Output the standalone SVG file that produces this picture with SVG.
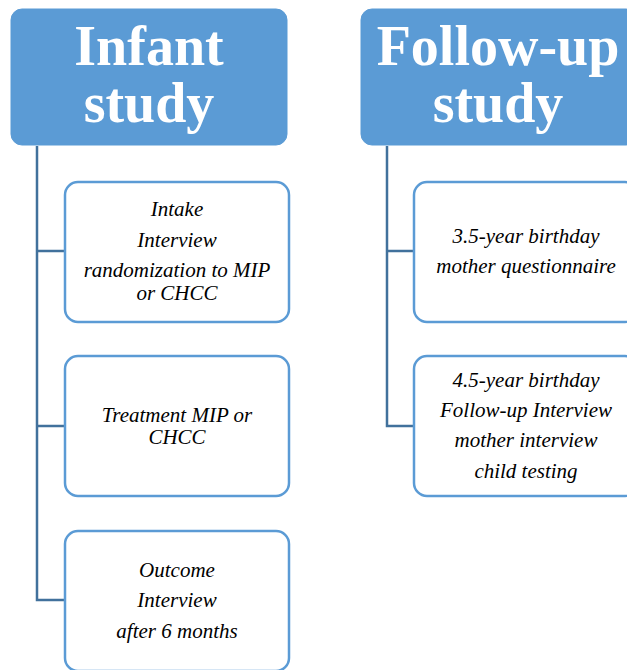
<svg xmlns="http://www.w3.org/2000/svg" width="627" height="670" viewBox="0 0 627 670">
<style>
.hdr{fill:#5B9BD5;stroke:#5B9BD5;stroke-width:1}
.hdrt{font-family:"Liberation Serif",serif;font-weight:bold;font-size:56px;fill:#fff;text-anchor:middle}
.box{fill:#fff;stroke:#5B9BD5;stroke-width:2.5}
.bt{font-family:"Liberation Serif",serif;font-style:italic;font-size:21px;fill:#000;text-anchor:middle}
.con{fill:none;stroke:#41719C;stroke-width:2.5}
</style>
<rect width="627" height="670" fill="#fff"/>
<g id="connectors">
<path class="con" d="M37 146 V600 H65 M37 251 H65 M37 426 H65"/>
<path class="con" d="M387 146 V426 H414 M387 251 H414"/>
</g>
<g id="infant">
<rect class="hdr" x="11" y="9" width="276" height="136" rx="11"/>
<text class="hdrt" x="149" y="65">Infant</text>
<text class="hdrt" x="149" y="122">study</text>
</g>
<g id="followup">
<rect class="hdr" x="361" y="9" width="276" height="136" rx="11"/>
<text class="hdrt" x="498" y="65">Follow-up</text>
<text class="hdrt" x="498" y="122">study</text>
</g>
<g id="intake">
<rect class="box" x="65" y="182" width="224" height="140" rx="13"/>
<text class="bt" x="177" y="216">Intake</text>
<text class="bt" x="177" y="247">Interview</text>
<text class="bt" x="177" y="277">randomization to MIP</text>
<text class="bt" x="177" y="300">or CHCC</text>
</g>
<g id="treatment">
<rect class="box" x="65" y="356" width="224" height="140" rx="13"/>
<text class="bt" x="177" y="422">Treatment MIP or</text>
<text class="bt" x="177" y="444">CHCC</text>
</g>
<g id="outcome">
<rect class="box" x="65" y="531" width="224" height="140" rx="13"/>
<text class="bt" x="177" y="577">Outcome</text>
<text class="bt" x="177" y="607">Interview</text>
<text class="bt" x="177" y="638">after 6 months</text>
</g>
<g id="y35">
<rect class="box" x="414" y="182" width="224" height="140" rx="13"/>
<text class="bt" x="526" y="243">3.5-year birthday</text>
<text class="bt" x="526" y="273">mother questionnaire</text>
</g>
<g id="y45">
<rect class="box" x="414" y="356" width="224" height="140" rx="13"/>
<text class="bt" x="526" y="387">4.5-year birthday</text>
<text class="bt" x="526" y="417">Follow-up Interview</text>
<text class="bt" x="526" y="447">mother interview</text>
<text class="bt" x="526" y="478">child testing</text>
</g>
</svg>
